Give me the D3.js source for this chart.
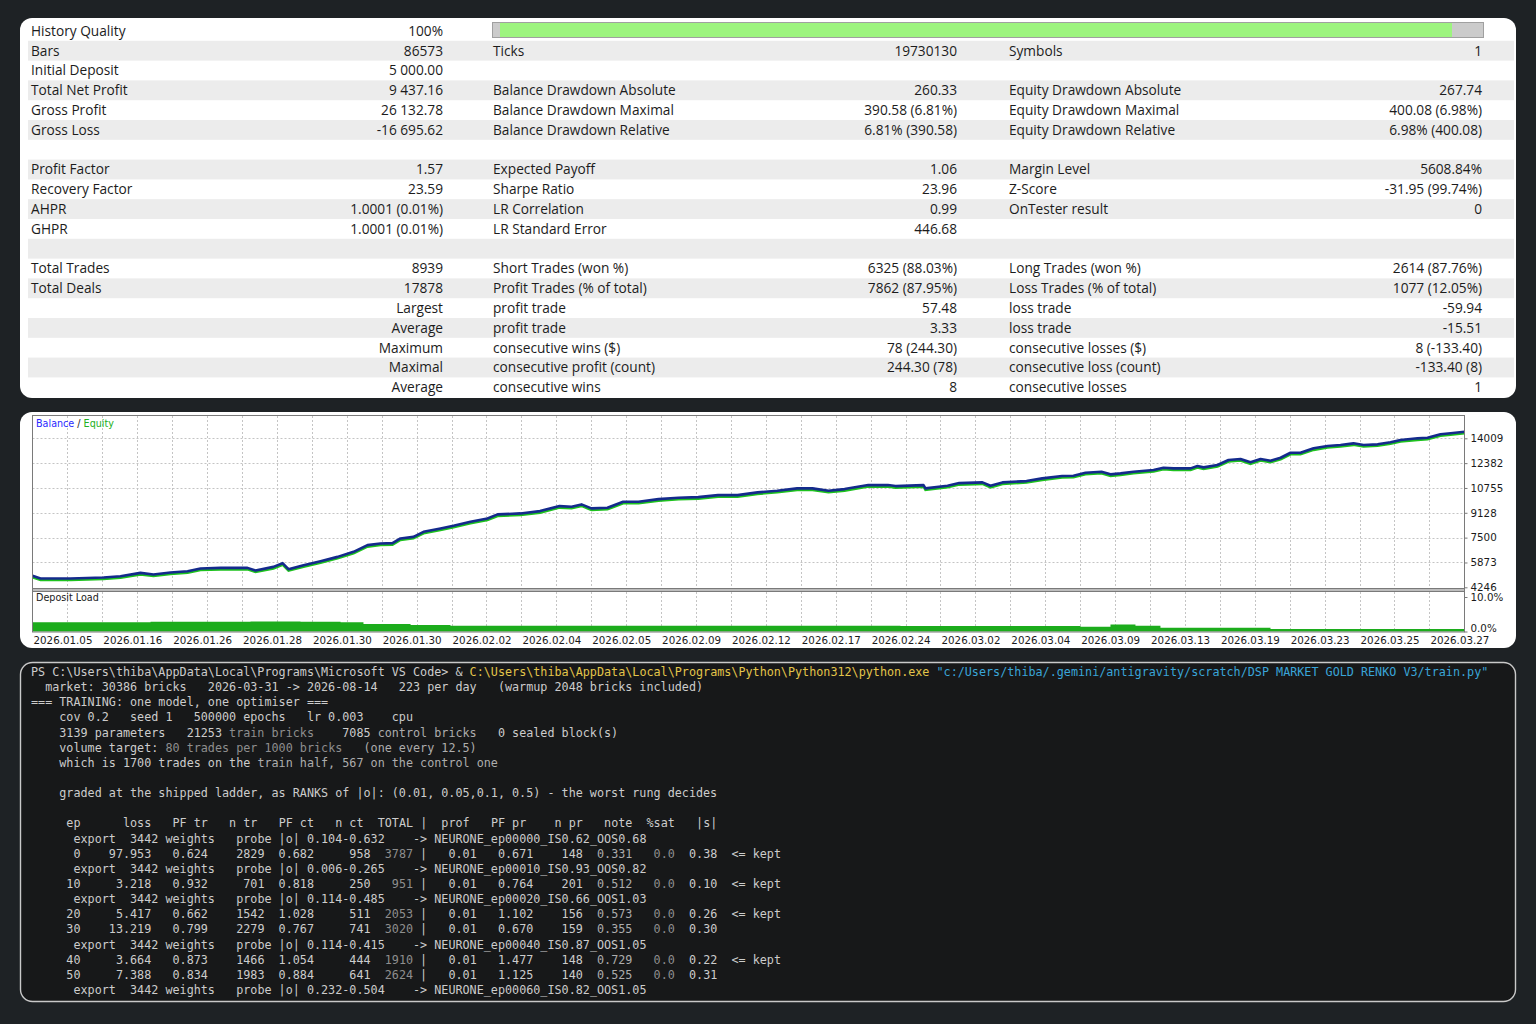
<!DOCTYPE html>
<html>
<head>
<meta charset="utf-8">
<script src="https://cdn.jsdelivr.net/npm/d3@7"></script>
<style>
  body { margin: 0; background: #1e2225; }
  #main { width: 1536px; height: 1024px; }
</style>
</head>
<body>
<div id="main"></div>
<script>
const ctx = {
    w: 1536,
    h: 1024,
};

// ---- report table ----
const historyQuality = 100;
const totalTrades = 8939;

const col1Labels = ["History Quality", "Bars", "Initial Deposit", "Total Net Profit", "Gross Profit", "Gross Loss", "",
    "Profit Factor", "Recovery Factor", "AHPR", "GHPR", "",
    "Total Trades", "Total Deals", "", "", "", "", ""];
const col1Values = ["100%", "86573", "5 000.00", "9 437.16", "26 132.78", "-16 695.62", "",
    "1.57", "23.59", "1.0001 (0.01%)", "1.0001 (0.01%)", "",
    "8939", "17878", "Largest", "Average", "Maximum", "Maximal", "Average"];
const col2Labels = ["", "Ticks", "", "Balance Drawdown Absolute", "Balance Drawdown Maximal", "Balance Drawdown Relative", "",
    "Expected Payoff", "Sharpe Ratio", "LR Correlation", "LR Standard Error", "",
    "Short Trades (won %)", "Profit Trades (% of total)", "profit trade", "profit trade",
    "consecutive wins ($)", "consecutive profit (count)", "consecutive wins"];
const col2Values = ["", "19730130", "", "260.33", "390.58 (6.81%)", "6.81% (390.58)", "",
    "1.06", "23.96", "0.99", "446.68", "",
    "6325 (88.03%)", "7862 (87.95%)", "57.48", "3.33", "78 (244.30)", "244.30 (78)", "8"];
const col3Labels = ["", "Symbols", "", "Equity Drawdown Absolute", "Equity Drawdown Maximal", "Equity Drawdown Relative", "",
    "Margin Level", "Z-Score", "OnTester result", "", "",
    "Long Trades (won %)", "Loss Trades (% of total)", "loss trade", "loss trade",
    "consecutive losses ($)", "consecutive loss (count)", "consecutive losses"];
const col3Values = ["", "1", "", "267.74", "400.08 (6.98%)", "6.98% (400.08)", "",
    "5608.84%", "-31.95 (99.74%)", "0", "", "",
    "2614 (87.76%)", "1077 (12.05%)", "-59.94", "-15.51", "8 (-133.40)", "-133.40 (8)", "1"];

// ---- balance / equity graph ----
const balanceTrades = [0, 50, 237, 443, 549, 674, 755, 861, 968, 1049,
    1174, 1342, 1392, 1504, 1561, 1598, 1692, 1798, 1904, 2004,
    2091, 2172, 2247, 2297, 2378, 2441, 2547, 2628, 2734, 2840,
    2903, 3046, 3168, 3290, 3365, 3427, 3489, 3589, 3687, 3783,
    3908, 4033, 4156, 4279, 4401, 4526, 4649, 4773, 4869, 4969,
    5069, 5217, 5340, 5387, 5562, 5574, 5712, 5785, 5930, 5980,
    6055, 6205, 6303, 6427, 6498, 6573, 6673, 6729, 6792, 6873,
    6998, 7060, 7123, 7229, 7272, 7310, 7397, 7466, 7541, 7603,
    7666, 7728, 7791, 7853, 7915, 7997, 8084, 8165, 8246, 8309,
    8396, 8477, 8540, 8646, 8708, 8789, 8852, 8939];
const balanceValues = [5000, 4823, 4823, 4889, 4974, 5191, 5086, 5217, 5302, 5479,
    5519, 5519, 5348, 5584, 5827, 5433, 5696, 5958, 6240, 6568,
    7008, 7119, 7139, 7447, 7552, 7880, 8103, 8274, 8536, 8759,
    9022, 9087, 9238, 9566, 9520, 9678, 9415, 9455, 9848, 9848,
    10025, 10111, 10157, 10288, 10288, 10465, 10570, 10727, 10727, 10570,
    10681, 10944, 10944, 10878, 10944, 10727, 10898, 11075, 11121, 10898,
    11121, 11206, 11383, 11534, 11554, 11751, 11816, 11646, 11711, 11816,
    11928, 12079, 12039, 12039, 12190, 12105, 12256, 12584, 12649, 12433,
    12649, 12538, 12735, 13063, 13063, 13351, 13502, 13568, 13679, 13568,
    13614, 13745, 13896, 14007, 14047, 14270, 14335, 14437];
const loadTrades = [0, 737, 1361, 1673, 1923, 2066, 2360, 2609, 4170, 5418, 6542, 6729, 6885, 7041, 7728, 8939];
const loadPct = [2.7, 2.8, 2.9, 2.8, 2.7, 2.2, 1.9, 1.7, 1.7, 1.6, 1.4, 2.0, 1.7, 1.1, 0.7, 0.7];
const yTicks = [4246, 5873, 7500, 9128, 10755, 12382, 14009];
const loadTicks = [0, 10];
const gridStep = 218;
const dateLabels = ["2026.01.05", "2026.01.16", "2026.01.26", "2026.01.28", "2026.01.30", "2026.01.30",
    "2026.02.02", "2026.02.04", "2026.02.05", "2026.02.09", "2026.02.12", "2026.02.17", "2026.02.24",
    "2026.03.02", "2026.03.04", "2026.03.09", "2026.03.13", "2026.03.19", "2026.03.23", "2026.03.25", "2026.03.27"];

// ---- terminal ----
const TXT = "#cccccc", DIM = "#8e8e8e", MID = "#adadad";
const terminalLines = [
    [["PS C:\\Users\\thiba\\AppData\\Local\\Programs\\Microsoft VS Code> & ", TXT],
     ["C:\\Users\\thiba\\AppData\\Local\\Programs\\Python\\Python312\\python.exe ", "#e3c54a"],
     ["\"c:/Users/thiba/.gemini/antigravity/scratch/DSP MARKET GOLD RENKO V3/train.py\"", "#3aa5d8"]],
    [["  market: 30386 bricks   2026-03-31 -> 2026-08-14   223 per day   (warmup 2048 bricks included)", TXT]],
    [["=== TRAINING: one model, one optimiser ===", TXT]],
    [["    cov 0.2   seed 1   500000 epochs   lr 0.003    cpu", TXT]],
    [["    3139 parameters   21253 ", TXT], ["train bricks", DIM], ["    7085 ", TXT], ["control bricks", MID], ["   0 sealed block(s)", TXT]],
    [["    volume target: ", TXT], ["80 trades per 1000 bricks", DIM], ["   (one every 12.5)", MID]],
    [["    which is 1700 trades on the ", TXT], ["train half, 567 on the control one", MID]],
    [],
    [["    graded at the shipped ladder, as RANKS of |o|: (0.01, 0.05,0.1, 0.5) - the worst rung decides", TXT]],
    []
];
const tableHeader = ["ep", "loss", "PF tr", "n tr", "PF ct", "n ct", "TOTAL", "|", "prof", "PF pr", "n pr", "note", "%sat", "|s|"];
const headerEnds = [7, 17, 25, 32, 40, 47, 54, 56, 62, 70, 78, 85, 91, 97];
const rowEnds = [7, 17, 25, 33, 40, 48, 54, 56, 63, 71, 78, 85, 91, 97];
const epochRows = [
    ["0", "97.953", "0.624", "2829", "0.682", "958", "3787", "|", "0.01", "0.671", "148", "0.331", "0.0", "0.38", true],
    ["10", "3.218", "0.932", "701", "0.818", "250", "951", "|", "0.01", "0.764", "201", "0.512", "0.0", "0.10", true],
    ["20", "5.417", "0.662", "1542", "1.028", "511", "2053", "|", "0.01", "1.102", "156", "0.573", "0.0", "0.26", true],
    ["30", "13.219", "0.799", "2279", "0.767", "741", "3020", "|", "0.01", "0.670", "159", "0.355", "0.0", "0.30", false],
    ["40", "3.664", "0.873", "1466", "1.054", "444", "1910", "|", "0.01", "1.477", "148", "0.729", "0.0", "0.22", true],
    ["50", "7.388", "0.834", "1983", "0.884", "641", "2624", "|", "0.01", "1.125", "140", "0.525", "0.0", "0.31", false]
];
// export lines come before the epoch they belong to (-1 = after the last row)
const exportBefore = [0, 10, 20, 40, -1];
const exportRanges = ["0.104-0.632", "0.006-0.265", "0.114-0.485", "0.114-0.415", "0.232-0.504"];
const exportNames = ["NEURONE_ep00000_IS0.62_OOS0.68", "NEURONE_ep00010_IS0.93_OOS0.82", "NEURONE_ep00020_IS0.66_OOS1.03",
    "NEURONE_ep00040_IS0.87_OOS1.05", "NEURONE_ep00060_IS0.82_OOS1.05"];
const exportStarts = [6, 14, 19, 29, 35, 39, 54, 57];


function createStatsTable(svgEl) {
    const rowTop = 21, rowH = 19.8;

    svgEl.append("rect")
         .attr("x", 20).attr("y", 18)
         .attr("width", 1496).attr("height", 380)
         .attr("rx", 12)
         .attr("fill", "#ffffff");

    const rows = d3.range(col1Labels.length);

    svgEl.selectAll(".stripe")
         .data(rows.filter(i => i % 2 === 1))
         .enter().append("rect")
         .attr("class", "stripe")
         .attr("x", 28).attr("width", 1486)
         .attr("y", i => rowTop + i * rowH)
         .attr("height", rowH)
         .attr("fill", "#ececec");

    const cols = [
        {labels: col1Labels, values: col1Values, lx: 31, vx: 443},
        {labels: col2Labels, values: col2Values, lx: 493, vx: 957},
        {labels: col3Labels, values: col3Values, lx: 1009, vx: 1482}
    ];

    cols.forEach(c => {
        const g = svgEl.append("g")
                       .style("font-family", "'Open Sans', 'Noto Sans', sans-serif")
                       .style("font-size", "13.7px")
                       .style("fill", "#1c1c1c");
        g.selectAll(".lbl")
         .data(rows.filter(i => c.labels[i] !== ""))
         .enter().append("text")
         .attr("x", c.lx)
         .attr("y", i => rowTop + i * rowH + rowH / 2 + 4.8)
         .text(i => c.labels[i]);
        g.selectAll(".val")
         .data(rows.filter(i => c.values[i] !== ""))
         .enter().append("text")
         .attr("x", c.vx)
         .attr("y", i => rowTop + i * rowH + rowH / 2 + 4.8)
         .attr("text-anchor", "end")
         .text(i => c.values[i]);
    });

    // history quality gauge
    const q = d3.scaleLinear().domain([0, 100]).range([500, 1452]);
    svgEl.append("rect")
         .attr("x", 492.5).attr("y", 22.5)
         .attr("width", 991).attr("height", 15)
         .attr("fill", "#cbcbcb")
         .attr("stroke", "#a0a0a0");
    svgEl.append("rect")
         .attr("x", q(0)).attr("y", 23)
         .attr("width", q(historyQuality) - q(0)).attr("height", 14)
         .attr("fill", "#9df47f");
}


function createBalanceChart(svgEl) {
    const left = 32.5, right = 1464.5, top = 416, mainBottom = 589, loadTop = 591, bottom = 632;

    svgEl.append("rect")
         .attr("x", 20).attr("y", 412)
         .attr("width", 1496).attr("height", 236)
         .attr("rx", 12)
         .attr("fill", "#ffffff");

    const x = d3.scaleLinear().domain([0, totalTrades]).range([left, right]);
    const y = d3.scaleLinear().domain([yTicks[0], yTicks[yTicks.length - 1]]).range([587.3, 438.3]);
    const yLoad = d3.scaleLinear().domain([0, 10]).range([631.5, 597]);

    const g = svgEl.append("g");

    // dotted grid
    const gridIdx = d3.range(1, Math.floor(totalTrades / gridStep) + 1);
    g.selectAll(".vgrid")
     .data(gridIdx)
     .enter().append("line")
     .attr("x1", i => Math.round(x(i * gridStep)) + 0.5)
     .attr("x2", i => Math.round(x(i * gridStep)) + 0.5)
     .attr("y1", top).attr("y2", bottom)
     .attr("stroke", "#c4c4c4")
     .attr("stroke-dasharray", "2,2");
    g.selectAll(".hgrid")
     .data(yTicks.slice(1))
     .enter().append("line")
     .attr("x1", left).attr("x2", right)
     .attr("y1", d => Math.round(y(d)) + 0.5)
     .attr("y2", d => Math.round(y(d)) + 0.5)
     .attr("stroke", "#c4c4c4")
     .attr("stroke-dasharray", "2,2");

    const balance = balanceTrades.map((t, i) => ({t: t, v: balanceValues[i]}));
    const load = loadTrades.map((t, i) => ({t: t, v: loadPct[i]}));

    // deposit load
    g.append("path")
     .datum(load)
     .attr("fill", "#1cac1c")
     .attr("d", d3.area()
        .curve(d3.curveStepAfter)
        .x(d => x(d.t))
        .y0(yLoad(0))
        .y1(d => yLoad(d.v)));

    const line = d3.line().x(d => x(d.t)).y(d => y(d.v));

    // equity sits right under the balance line
    g.append("path")
     .datum(balance)
     .attr("transform", "translate(0,1.6)")
     .attr("fill", "none")
     .attr("stroke", "#1ec21e")
     .attr("stroke-width", 2.4)
     .attr("d", line);
    g.append("path")
     .datum(balance)
     .attr("fill", "none")
     .attr("stroke", "#142a8c")
     .attr("stroke-width", 2.6)
     .attr("stroke-linejoin", "round")
     .attr("d", line);

    // frames
    g.append("rect")
     .attr("x", left).attr("y", top - 0.5)
     .attr("width", right - left).attr("height", bottom - top + 0.5)
     .attr("fill", "none")
     .attr("stroke", "#7a7a7a");
    g.append("rect")
     .attr("x", left).attr("y", mainBottom - 0.5)
     .attr("width", right - left).attr("height", loadTop - mainBottom + 1)
     .attr("fill", "#bdbdbd")
     .attr("stroke", "#7a7a7a");

    // axes
    const axisFont = "'DejaVu Sans', Tahoma, sans-serif";
    const yAxis = g.append("g")
                   .attr("transform", `translate(${right},0)`)
                   .call(d3.axisRight(y).tickValues(yTicks).tickSize(3).tickPadding(3).tickFormat(d3.format("d")));
    const loadAxis = g.append("g")
                      .attr("transform", `translate(${right},0)`)
                      .call(d3.axisRight(yLoad).tickValues(loadTicks).tickSize(3).tickPadding(3).tickFormat(d => d.toFixed(1) + "%"));
    [yAxis, loadAxis].forEach(a => {
        a.select(".domain").remove();
        a.selectAll("line").attr("stroke", "#7a7a7a");
        a.selectAll("text")
         .style("font-family", axisFont)
         .style("font-size", "10.3px")
         .attr("fill", "#1a1a1a");
    });
    // keep the 0.0% label just clear of the last date label
    loadAxis.selectAll("text").filter(d => d === 0).attr("dy", "-0.05em");

    g.selectAll(".date")
     .data(dateLabels)
     .enter().append("text")
     .attr("x", (d, i) => x(i * 2 * gridStep) + 1)
     .attr("y", 643.5)
     .style("font-family", axisFont)
     .style("font-size", "10.3px")
     .attr("fill", "#1a1a1a")
     .text(d => d);

    const legend = g.append("text")
                    .attr("x", 36).attr("y", 427)
                    .style("font-family", axisFont)
                    .style("font-size", "9.6px");
    legend.append("tspan").attr("fill", "#2a2aff").text("Balance");
    legend.append("tspan").attr("fill", "#222").text(" / ");
    legend.append("tspan").attr("fill", "#22b022").text("Equity");

    g.append("text")
     .attr("x", 36).attr("y", 601)
     .style("font-family", axisFont)
     .style("font-size", "9.6px")
     .attr("fill", "#1a1a1a")
     .text("Deposit Load");
}


function layoutFields(fields, ends, colors) {
    let pos = 0;
    return fields.map((f, i) => {
        const start = ends[i] - f.length;
        const pad = Math.max(1, start - pos);
        pos += pad + f.length;
        return [" ".repeat(pad) + f, colors[i] || TXT];
    });
}

function layoutStarts(fields, starts) {
    let pos = 0;
    return fields.map((f, i) => {
        const pad = Math.max(1, starts[i] - pos);
        pos += pad + f.length;
        return [" ".repeat(pad) + f, TXT];
    });
}

function createTerminal(svgEl) {
    svgEl.append("rect")
         .attr("x", 20.5).attr("y", 662.5)
         .attr("width", 1495).attr("height", 339)
         .attr("rx", 12)
         .attr("fill", "#171819")
         .attr("stroke", "#c9c9c9")
         .attr("stroke-width", 1.4);

    const lines = terminalLines.slice();
    lines.push(layoutFields(tableHeader, headerEnds, []));
    const rowColors = [TXT, TXT, TXT, TXT, TXT, TXT, DIM, TXT, TXT, TXT, TXT, MID, DIM, TXT];
    let e = 0;
    epochRows.forEach(r => {
        if (exportBefore[e] === +r[0]) {
            lines.push(layoutStarts(["export", "3442", "weights", "probe", "|o|", exportRanges[e], "->", exportNames[e]], exportStarts));
            e++;
        }
        const segs = layoutFields(r.slice(0, 14), rowEnds, rowColors);
        if (r[14]) segs.push(["  <= kept", TXT]);
        lines.push(segs);
    });
    lines.push(layoutStarts(["export", "3442", "weights", "probe", "|o|", exportRanges[e], "->", exportNames[e]], exportStarts));

    const lineY = d3.scaleLinear().domain([0, 21]).range([676, 994]);
    const t = svgEl.append("g")
                   .style("font-family", "'DejaVu Sans Mono', monospace")
                   .style("font-size", "11.75px")
                   .style("white-space", "pre");
    lines.forEach((segs, i) => {
        const txt = t.append("text").attr("x", 31).attr("y", lineY(i)).attr("xml:space", "preserve");
        segs.forEach(s => txt.append("tspan").attr("fill", s[1]).text(s[0]));
    });
}


function createViz() {
    const svgEl = d3.select("#main").append("svg")
      .attr("width", ctx.w)
      .attr("height", ctx.h);
    svgEl.append("rect").attr("width", ctx.w).attr("height", ctx.h).attr("fill", "#1e2225");
    createStatsTable(svgEl);
    createBalanceChart(svgEl);
    createTerminal(svgEl);
}

createViz();
</script>
</body>
</html>
